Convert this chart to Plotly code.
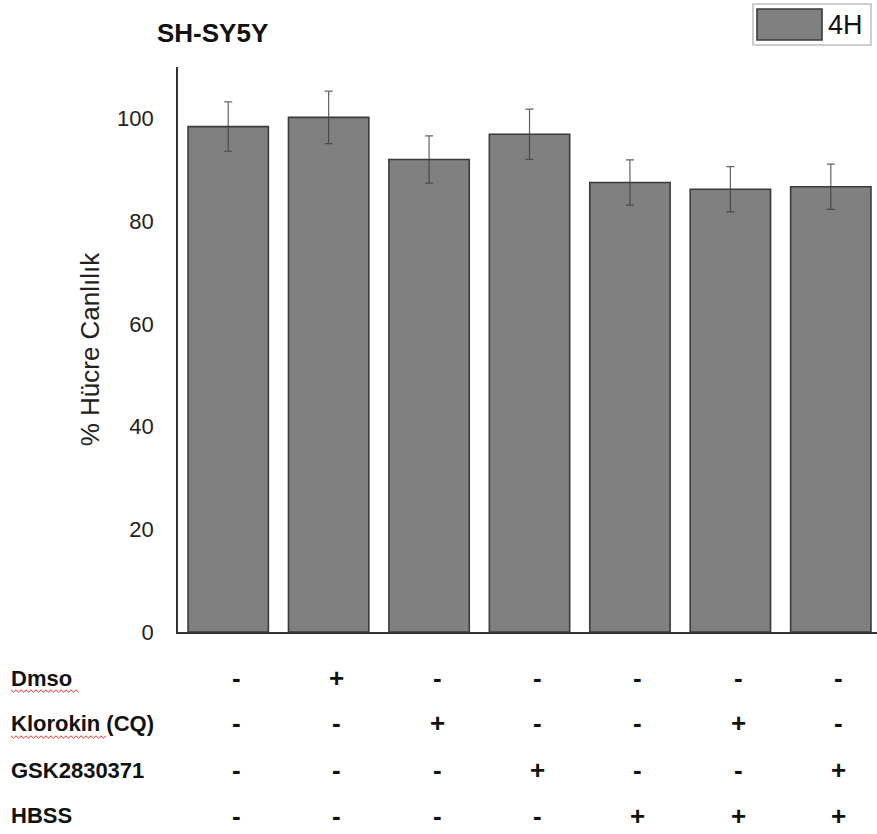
import plotly.graph_objects as go

# Cell viability (SH-SY5Y, 4 h) per treatment group
groups = ["G1", "G2", "G3", "G4", "G5", "G6", "G7"]
viability = [98.4, 100.2, 92.0, 96.9, 87.5, 86.2, 86.7]
viability_sd = [4.8, 5.1, 4.6, 4.9, 4.4, 4.4, 4.4]
series_name = "4H"

# Treatment matrix shown under the bars
treatments = ["Dmso", "Klorokin (CQ)", "GSK2830371", "HBSS"]
treatment_flags = [
    ["-", "+", "-", "-", "-", "-", "-"],
    ["-", "-", "+", "-", "-", "+", "-"],
    ["-", "-", "-", "+", "-", "-", "+"],
    ["-", "-", "-", "-", "+", "+", "+"],
]
y_ticks = [0, 20, 40, 60, 80, 100]

W, H = 877, 834
ML, MR, MT, MB = 178, 0, 67, 202
PW, PH = W - ML - MR, H - MT - MB


def px(xp):
    return (xp - ML) / PW


def py(yp):
    return (H - MB - yp) / PH


fig = go.Figure()
fig.add_trace(go.Bar(
    x=list(range(len(groups))),
    y=viability,
    name=series_name,
    marker=dict(color="#808080", line=dict(color="#3a3a3a", width=1.6)),
    error_y=dict(type="data", array=viability_sd, visible=True,
                 color="rgba(60,60,60,0.8)", thickness=1.2, width=4),
    showlegend=False,
))

annotations = []
shapes = []

# Title
annotations.append(dict(text="<b>SH-SY5Y</b>", x=px(155), y=py(33), xref="paper", yref="paper",
                        xanchor="left", yanchor="middle", showarrow=False,
                        font=dict(family="Liberation Sans, Arial", size=26, color="#111")))

# Legend box
shapes.append(dict(type="rect", xref="paper", yref="paper", x0=px(753), x1=px(871), y0=py(45), y1=py(4),
                   line=dict(color="#bdbdbd", width=1.5), fillcolor="white"))
shapes.append(dict(type="rect", xref="paper", yref="paper", x0=px(757), x1=px(822), y0=py(40), y1=py(9),
                   line=dict(color="#3a3a3a", width=1.6), fillcolor="#808080"))
annotations.append(dict(text=series_name, x=px(826), y=py(25), xref="paper", yref="paper",
                        xanchor="left", yanchor="middle", showarrow=False,
                        font=dict(family="Liberation Sans, Arial", size=27, color="#111")))

# Treatment table
row_y = [678, 723, 770, 816]
for r, (label, flags) in enumerate(zip(treatments, treatment_flags)):
    annotations.append(dict(text="<b>" + label + "</b>", x=px(9), y=py(row_y[r]), xref="paper", yref="paper",
                            xanchor="left", yanchor="middle", showarrow=False,
                            font=dict(family="Liberation Sans, Arial", size=22, color="#111")))
    for c, f in enumerate(flags):
        annotations.append(dict(text="<b>" + f + "</b>", x=c + 0.08, y=py(row_y[r]), xref="x", yref="paper",
                                xanchor="center", yanchor="middle", showarrow=False,
                                font=dict(family="Liberation Sans, Arial", size=26, color="#111")))

# Spell-check underline squiggles under the first two labels
for (x0, x1, yy) in [(11, 80, 691), (11, 106, 737)]:
    pts = []
    step = 2.5
    xs = x0
    k = 0
    while xs <= x1:
        pts.append((xs, yy + (1.2 if k % 2 else -1.2)))
        xs += step
        k += 1
    path = "M " + " L ".join(f"{px(a):.5f},{py(b):.5f}" for a, b in pts)
    shapes.append(dict(type="path", xref="paper", yref="paper", path=path,
                       line=dict(color="#e03030", width=1)))

fig.update_layout(
    width=W, height=H,
    margin=dict(l=ML, r=MR, t=MT, b=MB),
    paper_bgcolor="white", plot_bgcolor="white",
    bargap=0.2,
    annotations=annotations,
    shapes=shapes,
    xaxis=dict(range=[-0.5, 6.46], showticklabels=False, showgrid=False, zeroline=False,
               showline=True, linecolor="#333", linewidth=1.6, ticks=""),
    yaxis=dict(range=[0, 110], tickvals=y_ticks, showgrid=False, zeroline=False,
               showline=True, linecolor="#333", linewidth=1.6, ticks="",
               ticklabelstandoff=18,
               tickfont=dict(family="Liberation Sans, Arial", size=22, color="#222"),
               title=dict(text="% Hücre Canlılık", standoff=10,
                          font=dict(family="Liberation Sans, Arial", size=26, color="#222"))),
)

fig.write_html("out.html")
